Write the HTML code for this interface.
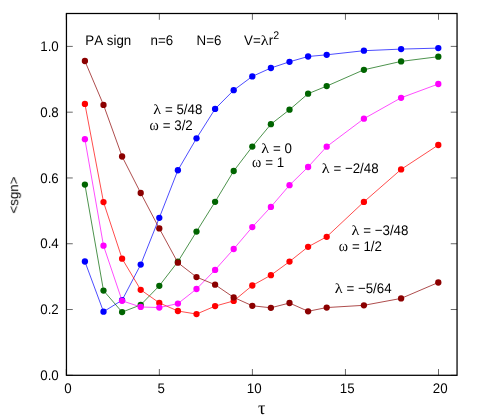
<!DOCTYPE html><html><head><meta charset="utf-8"><style>html,body{margin:0;padding:0;background:#fff}svg{display:block}text{text-rendering:geometricPrecision;font-kerning:none;font-family:"Liberation Sans",sans-serif;font-size:13.33px;fill:#000;white-space:pre}.g{font-family:"Liberation Serif",serif}</style></head><body>
<svg width="488" height="419" viewBox="0 0 488 419">
<rect width="488" height="419" fill="#fff"/>
<path d="M66.45 375.30h6.3M457.05 375.30h-6.3M66.45 309.52h6.3M457.05 309.52h-6.3M66.45 243.74h6.3M457.05 243.74h-6.3M66.45 177.96h6.3M457.05 177.96h-6.3M66.45 112.18h6.3M457.05 112.18h-6.3M66.45 46.40h6.3M457.05 46.40h-6.3M66.30 375.3v-6.3M66.30 13.5v6.3M159.35 375.3v-6.3M159.35 13.5v6.3M252.40 375.3v-6.3M252.40 13.5v6.3M345.45 375.3v-6.3M345.45 13.5v6.3M438.50 375.3v-6.3M438.50 13.5v6.3" stroke="#000" stroke-width="0.6" fill="none"/>
<polyline points="84.90,261.50 103.50,311.70 122.10,300.19 140.70,264.62 159.30,217.81 177.90,170.23 196.50,138.32 215.10,108.91 233.70,90.19 252.30,76.40 270.90,68.01 289.50,61.79 308.10,56.50 326.70,54.82 363.90,50.71 401.10,49.10 438.30,48.11" fill="none" stroke="#0000ff" stroke-width="0.7"/>
<circle cx="84.90" cy="261.50" r="3.15" fill="#0000ff"/>
<circle cx="103.50" cy="311.70" r="3.15" fill="#0000ff"/>
<circle cx="122.10" cy="300.19" r="3.15" fill="#0000ff"/>
<circle cx="140.70" cy="264.62" r="3.15" fill="#0000ff"/>
<circle cx="159.30" cy="217.81" r="3.15" fill="#0000ff"/>
<circle cx="177.90" cy="170.23" r="3.15" fill="#0000ff"/>
<circle cx="196.50" cy="138.32" r="3.15" fill="#0000ff"/>
<circle cx="215.10" cy="108.91" r="3.15" fill="#0000ff"/>
<circle cx="233.70" cy="90.19" r="3.15" fill="#0000ff"/>
<circle cx="252.30" cy="76.40" r="3.15" fill="#0000ff"/>
<circle cx="270.90" cy="68.01" r="3.15" fill="#0000ff"/>
<circle cx="289.50" cy="61.79" r="3.15" fill="#0000ff"/>
<circle cx="308.10" cy="56.50" r="3.15" fill="#0000ff"/>
<circle cx="326.70" cy="54.82" r="3.15" fill="#0000ff"/>
<circle cx="363.90" cy="50.71" r="3.15" fill="#0000ff"/>
<circle cx="401.10" cy="49.10" r="3.15" fill="#0000ff"/>
<circle cx="438.30" cy="48.11" r="3.15" fill="#0000ff"/>
<polyline points="84.90,184.61 103.50,290.58 122.10,312.10 140.70,304.93 159.30,285.78 177.90,261.69 196.50,231.59 215.10,201.82 233.70,171.02 252.30,146.61 270.90,124.21 289.50,109.70 308.10,93.71 326.70,86.11 363.90,69.79 401.10,61.40 438.30,56.70" fill="none" stroke="#006400" stroke-width="0.7"/>
<circle cx="84.90" cy="184.61" r="3.15" fill="#006400"/>
<circle cx="103.50" cy="290.58" r="3.15" fill="#006400"/>
<circle cx="122.10" cy="312.10" r="3.15" fill="#006400"/>
<circle cx="140.70" cy="304.93" r="3.15" fill="#006400"/>
<circle cx="159.30" cy="285.78" r="3.15" fill="#006400"/>
<circle cx="177.90" cy="261.69" r="3.15" fill="#006400"/>
<circle cx="196.50" cy="231.59" r="3.15" fill="#006400"/>
<circle cx="215.10" cy="201.82" r="3.15" fill="#006400"/>
<circle cx="233.70" cy="171.02" r="3.15" fill="#006400"/>
<circle cx="252.30" cy="146.61" r="3.15" fill="#006400"/>
<circle cx="270.90" cy="124.21" r="3.15" fill="#006400"/>
<circle cx="289.50" cy="109.70" r="3.15" fill="#006400"/>
<circle cx="308.10" cy="93.71" r="3.15" fill="#006400"/>
<circle cx="326.70" cy="86.11" r="3.15" fill="#006400"/>
<circle cx="363.90" cy="69.79" r="3.15" fill="#006400"/>
<circle cx="401.10" cy="61.40" r="3.15" fill="#006400"/>
<circle cx="438.30" cy="56.70" r="3.15" fill="#006400"/>
<polyline points="84.90,103.91 103.50,202.08 122.10,258.67 140.70,289.79 159.30,302.89 177.90,311.01 196.50,314.07 215.10,306.11 233.70,300.91 252.30,285.51 270.90,275.18 289.50,261.60 308.10,246.79 326.70,236.79 363.90,201.88 401.10,169.41 438.30,145.00" fill="none" stroke="#ff0000" stroke-width="0.7"/>
<circle cx="84.90" cy="103.91" r="3.15" fill="#ff0000"/>
<circle cx="103.50" cy="202.08" r="3.15" fill="#ff0000"/>
<circle cx="122.10" cy="258.67" r="3.15" fill="#ff0000"/>
<circle cx="140.70" cy="289.79" r="3.15" fill="#ff0000"/>
<circle cx="159.30" cy="302.89" r="3.15" fill="#ff0000"/>
<circle cx="177.90" cy="311.01" r="3.15" fill="#ff0000"/>
<circle cx="196.50" cy="314.07" r="3.15" fill="#ff0000"/>
<circle cx="215.10" cy="306.11" r="3.15" fill="#ff0000"/>
<circle cx="233.70" cy="300.91" r="3.15" fill="#ff0000"/>
<circle cx="252.30" cy="285.51" r="3.15" fill="#ff0000"/>
<circle cx="270.90" cy="275.18" r="3.15" fill="#ff0000"/>
<circle cx="289.50" cy="261.60" r="3.15" fill="#ff0000"/>
<circle cx="308.10" cy="246.79" r="3.15" fill="#ff0000"/>
<circle cx="326.70" cy="236.79" r="3.15" fill="#ff0000"/>
<circle cx="363.90" cy="201.88" r="3.15" fill="#ff0000"/>
<circle cx="401.10" cy="169.41" r="3.15" fill="#ff0000"/>
<circle cx="438.30" cy="145.00" r="3.15" fill="#ff0000"/>
<polyline points="84.90,139.21 103.50,245.71 122.10,300.81 140.70,306.97 159.30,307.56 177.90,303.61 196.50,289.00 215.10,269.92 233.70,249.00 252.30,227.05 270.90,206.88 289.50,185.20 308.10,166.98 326.70,146.64 363.90,118.71 401.10,97.79 438.30,84.00" fill="none" stroke="#ff00ff" stroke-width="0.7"/>
<circle cx="84.90" cy="139.21" r="3.15" fill="#ff00ff"/>
<circle cx="103.50" cy="245.71" r="3.15" fill="#ff00ff"/>
<circle cx="122.10" cy="300.81" r="3.15" fill="#ff00ff"/>
<circle cx="140.70" cy="306.97" r="3.15" fill="#ff00ff"/>
<circle cx="159.30" cy="307.56" r="3.15" fill="#ff00ff"/>
<circle cx="177.90" cy="303.61" r="3.15" fill="#ff00ff"/>
<circle cx="196.50" cy="289.00" r="3.15" fill="#ff00ff"/>
<circle cx="215.10" cy="269.92" r="3.15" fill="#ff00ff"/>
<circle cx="233.70" cy="249.00" r="3.15" fill="#ff00ff"/>
<circle cx="252.30" cy="227.05" r="3.15" fill="#ff00ff"/>
<circle cx="270.90" cy="206.88" r="3.15" fill="#ff00ff"/>
<circle cx="289.50" cy="185.20" r="3.15" fill="#ff00ff"/>
<circle cx="308.10" cy="166.98" r="3.15" fill="#ff00ff"/>
<circle cx="326.70" cy="146.64" r="3.15" fill="#ff00ff"/>
<circle cx="363.90" cy="118.71" r="3.15" fill="#ff00ff"/>
<circle cx="401.10" cy="97.79" r="3.15" fill="#ff00ff"/>
<circle cx="438.30" cy="84.00" r="3.15" fill="#ff00ff"/>
<polyline points="84.90,61.00 103.50,104.89 122.10,156.51 140.70,193.00 159.30,228.47 177.90,262.71 196.50,277.09 215.10,284.69 233.70,297.42 252.30,305.78 270.90,307.79 289.50,303.02 308.10,311.28 326.70,307.56 363.90,305.32 401.10,298.41 438.30,282.49" fill="none" stroke="#8b0000" stroke-width="0.7"/>
<circle cx="84.90" cy="61.00" r="3.15" fill="#8b0000"/>
<circle cx="103.50" cy="104.89" r="3.15" fill="#8b0000"/>
<circle cx="122.10" cy="156.51" r="3.15" fill="#8b0000"/>
<circle cx="140.70" cy="193.00" r="3.15" fill="#8b0000"/>
<circle cx="159.30" cy="228.47" r="3.15" fill="#8b0000"/>
<circle cx="177.90" cy="262.71" r="3.15" fill="#8b0000"/>
<circle cx="196.50" cy="277.09" r="3.15" fill="#8b0000"/>
<circle cx="215.10" cy="284.69" r="3.15" fill="#8b0000"/>
<circle cx="233.70" cy="297.42" r="3.15" fill="#8b0000"/>
<circle cx="252.30" cy="305.78" r="3.15" fill="#8b0000"/>
<circle cx="270.90" cy="307.79" r="3.15" fill="#8b0000"/>
<circle cx="289.50" cy="303.02" r="3.15" fill="#8b0000"/>
<circle cx="308.10" cy="311.28" r="3.15" fill="#8b0000"/>
<circle cx="326.70" cy="307.56" r="3.15" fill="#8b0000"/>
<circle cx="363.90" cy="305.32" r="3.15" fill="#8b0000"/>
<circle cx="401.10" cy="298.41" r="3.15" fill="#8b0000"/>
<circle cx="438.30" cy="282.49" r="3.15" fill="#8b0000"/>
<rect x="66.45" y="13.5" width="390.60" height="361.80" fill="none" stroke="#000" stroke-width="1.25"/>
<g opacity="0.999">
<text text-anchor="end" transform="translate(58.75,379.90) scale(1.0,1.05)">0.0</text>
<text text-anchor="end" transform="translate(58.75,314.12) scale(1.0,1.05)">0.2</text>
<text text-anchor="end" transform="translate(58.75,248.34) scale(1.0,1.05)">0.4</text>
<text text-anchor="end" transform="translate(58.75,182.56) scale(1.0,1.05)">0.6</text>
<text text-anchor="end" transform="translate(58.75,116.78) scale(1.0,1.05)">0.8</text>
<text text-anchor="end" transform="translate(58.75,51.00) scale(1.0,1.05)">1.0</text>
<text text-anchor="middle" transform="translate(68.05,393.30) scale(1.0,1.05)">0</text>
<text text-anchor="middle" transform="translate(161.10,393.30) scale(1.0,1.05)">5</text>
<text text-anchor="middle" transform="translate(254.15,393.30) scale(1.0,1.05)">10</text>
<text text-anchor="middle" transform="translate(347.20,393.30) scale(1.0,1.05)">15</text>
<text text-anchor="middle" transform="translate(440.25,393.30) scale(1.0,1.05)">20</text>
<text text-anchor="middle" transform="translate(18.20,195.10) rotate(-90) scale(1.0,1.0)">&lt;sgn&gt;</text>
<text class="g" text-anchor="middle" transform="translate(261.80,413.80) scale(1.0,1.0)" style="font-size:18.5px">τ</text>
<text transform="translate(85.30,45.00) scale(1.0,1.05)">PA sign</text>
<text transform="translate(150.50,45.00) scale(1.0,1.05)">n=6</text>
<text transform="translate(196.50,45.00) scale(1.0,1.05)">N=6</text>
<text transform="translate(244.00,45.00) scale(1.0,1.05)">V=</text>
<text class="g" transform="translate(260.80,45.00) scale(1.18,1.0)" style="font-size:13.8px">λ</text>
<text transform="translate(268.82,45.00) scale(1.0,1.05)">r<tspan dy="-5.7" style="font-size:10.6px">2</tspan></text>
<text class="g" transform="translate(153.20,114.10) scale(1.18,1.0)" style="font-size:13.8px">λ</text>
<text transform="translate(161.22,114.10) scale(1.0,1.05)"> = 5/48</text>
<text class="g" transform="translate(149.50,129.70) scale(0.9,1.0)" style="font-size:15.6px">ω</text>
<text transform="translate(159.04,129.70) scale(1.0,1.05)"> = 3/2</text>
<text class="g" transform="translate(261.20,153.00) scale(1.18,1.0)" style="font-size:13.8px">λ</text>
<text transform="translate(269.22,153.00) scale(1.0,1.05)"> = 0</text>
<text class="g" transform="translate(252.00,166.50) scale(0.9,1.0)" style="font-size:15.6px">ω</text>
<text transform="translate(261.54,166.50) scale(1.0,1.05)"> = 1</text>
<text class="g" transform="translate(321.70,172.50) scale(1.18,1.0)" style="font-size:13.8px">λ</text>
<text transform="translate(329.72,172.50) scale(1.0,1.05)"> = −2/48</text>
<text class="g" transform="translate(351.50,235.20) scale(1.18,1.0)" style="font-size:13.8px">λ</text>
<text transform="translate(359.52,235.20) scale(1.0,1.05)"> = −3/48</text>
<text class="g" transform="translate(338.70,250.80) scale(0.9,1.0)" style="font-size:15.6px">ω</text>
<text transform="translate(348.24,250.80) scale(1.0,1.05)"> = 1/2</text>
<text class="g" transform="translate(334.70,292.60) scale(1.18,1.0)" style="font-size:13.8px">λ</text>
<text transform="translate(342.72,292.60) scale(1.0,1.05)"> = −5/64</text>
</g></svg></body></html>
